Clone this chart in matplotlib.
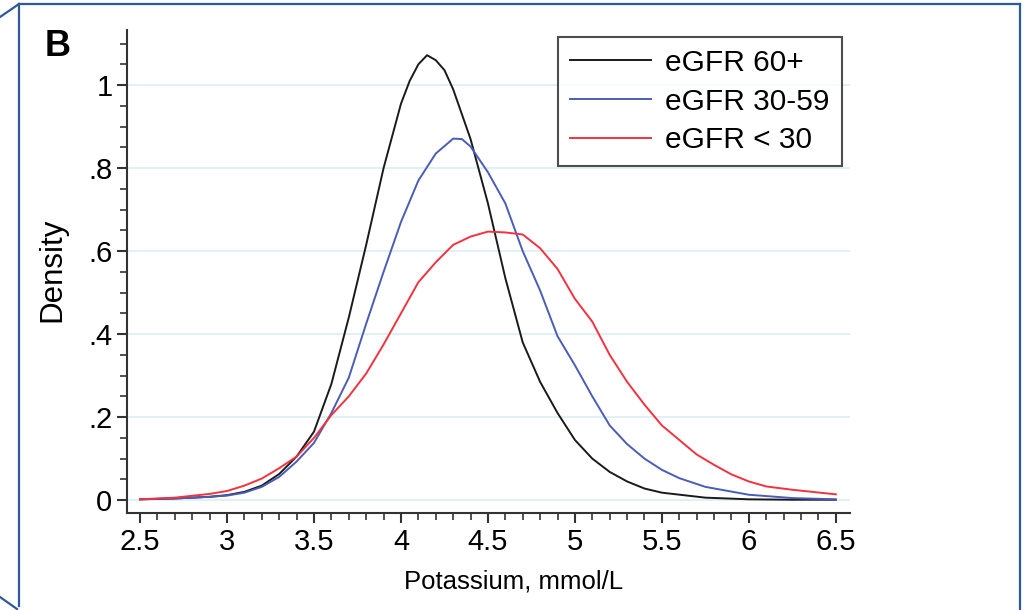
import matplotlib
matplotlib.use('Agg')
import matplotlib.pyplot as plt
from matplotlib.lines import Line2D
from matplotlib.ticker import FixedLocator

plt.rcParams['font.family'] = ['Liberation Sans', 'DejaVu Sans']

# density curves
x_60 = [2.5, 2.7, 2.9, 3.0, 3.1, 3.2, 3.3, 3.4, 3.5, 3.6, 3.7, 3.8, 3.9, 4.0, 4.05, 4.1,
        4.15, 4.2, 4.25, 4.3, 4.4, 4.5, 4.6, 4.7, 4.8, 4.9, 5.0, 5.1, 5.2, 5.3, 5.4, 5.5,
        5.75, 6.0, 6.25, 6.5]
d_60 = [0.002, 0.004, 0.008, 0.012, 0.02, 0.035, 0.063, 0.105, 0.165, 0.28, 0.44, 0.615,
        0.80, 0.955, 1.01, 1.05, 1.072, 1.06, 1.036, 0.99, 0.87, 0.715, 0.535, 0.38, 0.285,
        0.21, 0.145, 0.10, 0.068, 0.045, 0.028, 0.018, 0.006, 0.002, 0.001, 0.001]

x_3059 = [2.5, 2.7, 2.9, 3.0, 3.1, 3.2, 3.3, 3.4, 3.5, 3.6, 3.7, 3.8, 3.9, 4.0, 4.1, 4.2,
          4.3, 4.35, 4.4, 4.5, 4.6, 4.7, 4.8, 4.9, 5.0, 5.1, 5.2, 5.3, 5.4, 5.5, 5.6,
          5.75, 6.0, 6.25, 6.5]
d_3059 = [0.002, 0.004, 0.008, 0.011, 0.018, 0.032, 0.056, 0.093, 0.138, 0.21, 0.295, 0.425,
          0.55, 0.67, 0.77, 0.835, 0.871, 0.87, 0.852, 0.79, 0.715, 0.60, 0.505, 0.395,
          0.325, 0.25, 0.18, 0.135, 0.10, 0.073, 0.053, 0.032, 0.013, 0.005, 0.002]

x_30 = [2.5, 2.7, 2.9, 3.0, 3.1, 3.2, 3.3, 3.4, 3.5, 3.6, 3.7, 3.8, 3.9, 4.0, 4.1, 4.2,
        4.3, 4.4, 4.5, 4.6, 4.7, 4.8, 4.9, 5.0, 5.1, 5.2, 5.3, 5.4, 5.5, 5.6, 5.7, 5.8,
        5.9, 6.0, 6.1, 6.25, 6.5]
d_30 = [0.002, 0.006, 0.015, 0.022, 0.035, 0.052, 0.077, 0.105, 0.15, 0.205, 0.25, 0.305,
        0.375, 0.45, 0.525, 0.573, 0.615, 0.635, 0.647, 0.645, 0.64, 0.607, 0.557, 0.485,
        0.43, 0.35, 0.285, 0.23, 0.18, 0.145, 0.11, 0.085, 0.062, 0.045, 0.033, 0.025, 0.014]

labels = ['eGFR 60+', 'eGFR 30-59', 'eGFR < 30']
colors = ['#1a1a1a', '#4a5db5', '#f2333f']
y_ticks = [0, 0.2, 0.4, 0.6, 0.8, 1.0]
y_ticklabels = ['0', '.2', '.4', '.6', '.8', '1']
x_ticks = [2.5, 3, 3.5, 4, 4.5, 5, 5.5, 6, 6.5]
x_ticklabels = ['2.5', '3', '3.5', '4', '4.5', '5', '5.5', '6', '6.5']

fig = plt.figure(figsize=(10.3, 6.1), dpi=100)
ax = fig.add_axes([0.1233, 0.159, 0.7017, 0.792])

for xs, ds, lab, c in zip([x_60, x_3059, x_30], [d_60, d_3059, d_30], labels, colors):
    ax.plot(xs, ds, color=c, lw=1.4, label=lab)

ax.set_xlim(2.425, 6.58)
ax.set_ylim(-0.031, 1.133)

ax.set_yticks(y_ticks)
ax.set_yticklabels(y_ticklabels)
ax.yaxis.set_minor_locator(FixedLocator([0.05 * i for i in range(23) if i % 4 != 0]))
ax.set_xticks(x_ticks)
ax.set_xticklabels(x_ticklabels)
ax.xaxis.set_minor_locator(FixedLocator([2.5 + 0.1 * i for i in range(41) if i % 5 != 0]))

ax.grid(axis='y', color='#dceef2', lw=1.2)
ax.set_axisbelow(True)
for s in ['top', 'right']:
    ax.spines[s].set_visible(False)
for s in ['left', 'bottom']:
    ax.spines[s].set_color('#333333')
    ax.spines[s].set_linewidth(1.5)
ax.tick_params(which='major', length=7.5, width=1.5, color='#333333', labelsize=21, pad=3)
ax.tick_params(which='minor', length=5, width=1.2, color='#333333')

ax.set_xlabel('Potassium, mmol/L', fontsize=18.5)
ax.xaxis.set_label_coords(0.535, -0.117)
ax.set_ylabel('Density', fontsize=22.5)
ax.yaxis.set_label_coords(-0.082, 0.503)

leg = ax.legend(loc='upper right', bbox_to_anchor=(0.989, 0.9855), borderaxespad=0,
                fontsize=21.5, frameon=True, fancybox=False, edgecolor='#222222',
                handlelength=2.7, handletextpad=0.5, borderpad=0.4, labelspacing=0.36)
leg.get_frame().set_linewidth(1.5)

fig.text(0.043, 0.909, 'B', fontsize=26, fontweight='bold')

# blue panel frame
fc = '#2f5a95'
W, H = 1030, 610
for xs, ys in [([19, 19], [4, 606]), ([19, 1020], [4, 4]), ([1020, 1020], [4, 610]),
               ([0, 19], [17, 4]), ([0, 17], [597, 609])]:
    fig.add_artist(Line2D([x / W for x in xs], [1 - y / H for y in ys], color=fc, lw=1.6))

fig.savefig('out.png', dpi=100)
